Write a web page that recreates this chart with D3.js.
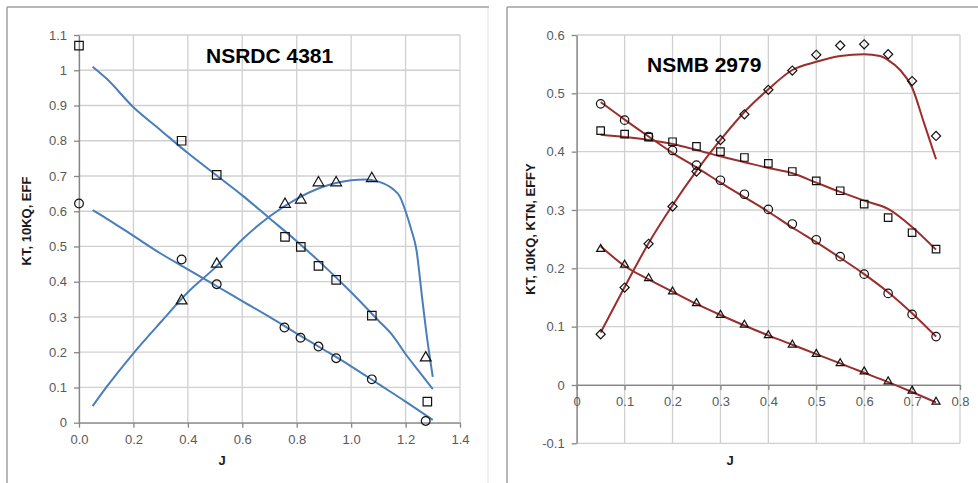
<html>
<head>
<script src="https://d3js.org/d3.v7.min.js"></script>
<style>
body { margin: 0; background: #fff; }
svg { display: block; }
.tick text { font-family: "Liberation Sans", Arial, sans-serif; font-size: 13px; fill: #595959; }
.lab { font-family: "Liberation Sans", Arial, sans-serif; font-weight: bold; }
</style>
</head>
<body>
<svg id="chart" width="978" height="483"></svg>
<script>
// ---- NSRDC 4381 (left) : measured points, [J, value]
var nsrdc10KQ = [[0, 1.07], [0.377, 0.80], [0.506, 0.703], [0.757, 0.527], [0.815, 0.499],
  [0.88, 0.445], [0.945, 0.405], [1.076, 0.304], [1.28, 0.06]];
var nsrdcKT = [[0, 0.622], [0.377, 0.463], [0.506, 0.393], [0.755, 0.27], [0.814, 0.241],
  [0.88, 0.216], [0.945, 0.183], [1.076, 0.123], [1.274, 0.005]];
var nsrdcEFF = [[0.377, 0.346], [0.506, 0.45], [0.757, 0.62], [0.815, 0.632], [0.88, 0.681],
  [0.945, 0.681], [1.076, 0.693], [1.274, 0.184]];
// fitted curves
var nsrdc10KQFit = [[0.05, 1.01], [0.1, 0.977], [0.2, 0.895], [0.3, 0.83], [0.4, 0.765], [0.5, 0.705],
  [0.6, 0.645], [0.7, 0.58], [0.8, 0.515], [0.9, 0.445], [1.0, 0.37], [1.1, 0.29], [1.15, 0.25],
  [1.2, 0.195], [1.25, 0.145], [1.3, 0.095]];
var nsrdcKTFit = [[0.05, 0.603], [0.1, 0.58], [0.2, 0.53], [0.3, 0.48], [0.4, 0.435], [0.5, 0.39],
  [0.6, 0.345], [0.7, 0.3], [0.8, 0.253], [0.9, 0.207], [1.0, 0.16], [1.1, 0.11], [1.2, 0.06], [1.3, 0.008]];
var nsrdcEFFFit = [[0.05, 0.047], [0.1, 0.1], [0.2, 0.197], [0.3, 0.285], [0.4, 0.37], [0.5, 0.44],
  [0.6, 0.52], [0.7, 0.585], [0.8, 0.635], [0.9, 0.67], [1.0, 0.688], [1.05, 0.69], [1.1, 0.684],
  [1.15, 0.665], [1.18, 0.64], [1.2, 0.6], [1.22, 0.55], [1.24, 0.49], [1.26, 0.36], [1.28, 0.235], [1.3, 0.13]];
var nsrdcXTicks = [0, 0.2, 0.4, 0.6, 0.8, 1.0, 1.2, 1.4];
var nsrdcYTicks = [0, 0.1, 0.2, 0.3, 0.4, 0.5, 0.6, 0.7, 0.8, 0.9, 1, 1.1];

// ---- NSMB 2979 (right)
var nsmbJ = [0.05, 0.1, 0.15, 0.2, 0.25, 0.3, 0.35, 0.4, 0.45, 0.5, 0.55, 0.6, 0.65, 0.7, 0.75];
var nsmbKT = [0.482, 0.454, 0.426, 0.402, 0.377, 0.351, 0.327, 0.301, 0.276, 0.249, 0.22, 0.19, 0.157, 0.121, 0.083];
var nsmb10KQ = [0.436, 0.43, 0.425, 0.417, 0.409, 0.4, 0.39, 0.38, 0.366, 0.35, 0.333, 0.31, 0.287, 0.261, 0.233];
var nsmbKTN = [0.233, 0.206, 0.183, 0.16, 0.14, 0.12, 0.103, 0.085, 0.069, 0.053, 0.037, 0.023, 0.006, -0.01, -0.029];
var nsmbEFFY = [0.087, 0.167, 0.242, 0.306, 0.366, 0.42, 0.464, 0.506, 0.539, 0.566, 0.582, 0.584, 0.567, 0.521, 0.427];
var nsmbKTFit = [0.485, 0.455, 0.426, 0.398, 0.373, 0.347, 0.322, 0.297, 0.27, 0.245, 0.218, 0.19, 0.159, 0.123, 0.083];
var nsmb10KQFit = [0.429, 0.425, 0.42, 0.413, 0.403, 0.392, 0.382, 0.372, 0.363, 0.347, 0.331, 0.316, 0.302, 0.271, 0.232];
var nsmbKTNFit = [0.238, 0.204, 0.181, 0.16, 0.139, 0.12, 0.102, 0.085, 0.069, 0.053, 0.037, 0.021, 0.005, -0.012, -0.03];
var nsmbEFFYFitJ = [0.05, 0.1, 0.15, 0.2, 0.25, 0.3, 0.35, 0.4, 0.45, 0.5, 0.55, 0.6, 0.633, 0.65, 0.675, 0.7, 0.725, 0.75];
var nsmbEFFYFit = [0.09, 0.168, 0.243, 0.308, 0.367, 0.42, 0.468, 0.507, 0.54, 0.554, 0.564, 0.567, 0.564, 0.557, 0.54, 0.51, 0.449, 0.387];
var nsmbXTicks = [0, 0.1, 0.2, 0.3, 0.4, 0.5, 0.6, 0.7, 0.8];
var nsmbYTicks = [-0.1, 0, 0.1, 0.2, 0.3, 0.4, 0.5, 0.6];

var svg = d3.select("#chart");

function zip(a, b) { return a.map(function (v, i) { return [v, b[i]]; }); }

// panel frames (dark top/left edge, faint right edge)
function frame(x0, x1) {
  svg.append("line").attr("x1", x0).attr("y1", 7).attr("x2", x1).attr("y2", 7)
    .attr("stroke", "#a0a0a0").attr("stroke-width", 1.5);
  svg.append("line").attr("x1", x0).attr("y1", 7).attr("x2", x0).attr("y2", 483)
    .attr("stroke", "#a0a0a0").attr("stroke-width", 1.5);
  svg.append("line").attr("x1", x1 - 1).attr("y1", 8).attr("x2", x1 - 1).attr("y2", 483)
    .attr("stroke", "#ececec").attr("stroke-width", 1.5);
}
frame(7, 489);
frame(507, 990);

function drawPanel(p) {
  var g = svg.append("g");
  var x = d3.scaleLinear().domain(p.xDomain).range([p.left, p.right]);
  var y = d3.scaleLinear().domain(p.yDomain).range([p.bottom, p.top]);

  // grid
  g.selectAll(".vg").data(p.xTicks).enter().append("line")
    .attr("x1", function (d) { return x(d); }).attr("x2", function (d) { return x(d); })
    .attr("y1", p.top).attr("y2", p.bottom)
    .attr("stroke", "#d0d0d0").attr("stroke-width", 1.3);
  g.selectAll(".hg").data(p.yTicks).enter().append("line")
    .attr("x1", p.left).attr("x2", p.right)
    .attr("y1", function (d) { return y(d); }).attr("y2", function (d) { return y(d); })
    .attr("stroke", "#d0d0d0").attr("stroke-width", 1.3);

  // axes
  var yAxis = d3.axisLeft(y).tickValues(p.yTicks).tickFormat(String).tickSize(5).tickPadding(7).tickSizeOuter(0);
  var xAxis = d3.axisBottom(x).tickValues(p.xTicks).tickFormat(p.xFormat).tickSize(5).tickPadding(7).tickSizeOuter(0);
  var ya = g.append("g").attr("transform", "translate(" + p.left + ",0)").call(yAxis);
  var xa = g.append("g").attr("transform", "translate(0," + y(0) + ")").call(xAxis);
  [ya, xa].forEach(function (a) {
    a.select(".domain").attr("stroke", "#868686").attr("stroke-width", 1.3);
    a.selectAll(".tick line").attr("stroke", "#868686").attr("stroke-width", 1.3);
  });

  // fitted curves
  var line = d3.line().x(function (d) { return x(d[0]); }).y(function (d) { return y(d[1]); })
    .curve(d3.curveMonotoneX);
  p.fits.forEach(function (f) {
    g.append("path").attr("d", line(f)).attr("fill", "none")
      .attr("stroke", p.lineColor).attr("stroke-width", 2);
  });

  // markers
  p.marks.forEach(function (m) {
    var sym = d3.symbol().type(m.type).size(m.size);
    g.selectAll(null).data(m.pts).enter().append("path")
      .attr("d", sym)
      .attr("transform", function (d) {
        return "translate(" + x(d[0]) + "," + y(d[1]) + ")" + (m.rot ? " rotate(45)" : "");
      })
      .attr("fill", "none").attr("stroke", "#111").attr("stroke-width", 1.2);
  });

  // labels
  svg.append("text").attr("class", "lab").attr("x", p.titleX).attr("y", p.titleY)
    .attr("font-size", 21).attr("fill", "#000").text(p.title);
  svg.append("text").attr("class", "lab").attr("font-size", 13).attr("fill", "#1a1a1a")
    .attr("text-anchor", "middle")
    .attr("transform", "translate(" + p.yLabX + "," + p.yLabY + ") rotate(-90)")
    .attr("dy", "0.35em").text(p.yLabel);
  svg.append("text").attr("class", "lab").attr("font-size", 13).attr("fill", "#1a1a1a")
    .attr("text-anchor", "middle").attr("x", p.xLabX).attr("y", 465).text("J");
}

drawPanel({
  left: 79, right: 460, top: 35, bottom: 422.7,
  xDomain: [0, 1.4], yDomain: [0, 1.1],
  xTicks: nsrdcXTicks, yTicks: nsrdcYTicks, xFormat: d3.format(".1f"),
  lineColor: "#4a7ebb",
  fits: [nsrdc10KQFit, nsrdcKTFit, nsrdcEFFFit],
  marks: [
    { pts: nsrdc10KQ, type: d3.symbolSquare, size: 72 },
    { pts: nsrdcKT, type: d3.symbolCircle, size: 60 },
    { pts: nsrdcEFF, type: d3.symbolTriangle, size: 50 }
  ],
  title: "NSRDC 4381", titleX: 206, titleY: 62.7,
  yLabel: "KT, 10KQ, EFF", yLabX: 26.5, yLabY: 221, xLabX: 222
});

drawPanel({
  left: 576.7, right: 960, top: 35, bottom: 443.3,
  xDomain: [0, 0.8], yDomain: [-0.1, 0.6],
  xTicks: nsmbXTicks, yTicks: nsmbYTicks, xFormat: String,
  lineColor: "#9b2d2d",
  fits: [zip(nsmbJ, nsmbKTFit), zip(nsmbJ, nsmb10KQFit), zip(nsmbJ, nsmbKTNFit), zip(nsmbEFFYFitJ, nsmbEFFYFit)],
  marks: [
    { pts: zip(nsmbJ, nsmb10KQ), type: d3.symbolSquare, size: 56 },
    { pts: zip(nsmbJ, nsmbKT), type: d3.symbolCircle, size: 56 },
    { pts: zip(nsmbJ, nsmbKTN), type: d3.symbolTriangle, size: 28 },
    { pts: zip(nsmbJ, nsmbEFFY), type: d3.symbolSquare, size: 42, rot: true }
  ],
  title: "NSMB 2979", titleX: 647, titleY: 71.7,
  yLabel: "KT, 10KQ, KTN, EFFY", yLabX: 530, yLabY: 229, xLabX: 730
});
</script>
</body>
</html>
